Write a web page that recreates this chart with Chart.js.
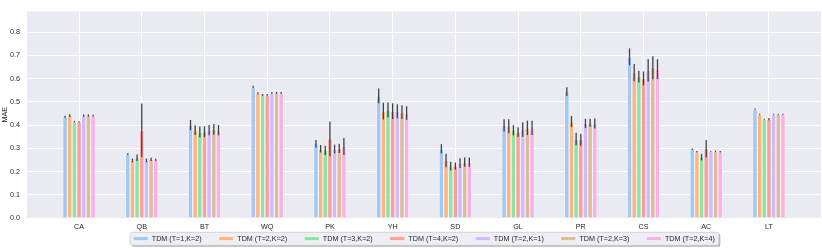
<!DOCTYPE html>
<html>
<head>
<meta charset="utf-8">
<script src="https://cdn.jsdelivr.net/npm/chart.js@4.4.0/dist/chart.umd.min.js"></script>
<style>
  html, body { margin: 0; padding: 0; background: #fff; }
  #chart { display: block; }
</style>
</head>
<body>
<canvas id="chart" width="822" height="248"></canvas>
<script>
// categories on the x axis
const categories = ["CA", "QB", "BT", "WQ", "PK", "YH", "SD", "GL", "PR", "CS", "AC", "LT"];

const seriesNames = [
    "TDM (T=1,K=2)",
    "TDM (T=2,K=2)",
    "TDM (T=3,K=2)",
    "TDM (T=4,K=2)",
    "TDM (T=2,K=1)",
    "TDM (T=2,K=3)",
    "TDM (T=2,K=4)"
];

// mean MAE per category
const t1k2 = [0.436, 0.275, 0.400, 0.565, 0.320, 0.526, 0.298, 0.399, 0.544, 0.694, 0.296, 0.469];
const t2k2 = [0.441, 0.248, 0.378, 0.537, 0.298, 0.460, 0.248, 0.395, 0.415, 0.626, 0.285, 0.447];
const t3k2 = [0.415, 0.259, 0.371, 0.530, 0.291, 0.465, 0.224, 0.378, 0.340, 0.609, 0.262, 0.425];
const t4k2 = [0.414, 0.378, 0.372, 0.530, 0.341, 0.460, 0.224, 0.370, 0.337, 0.601, 0.298, 0.426];
const t2k1 = [0.441, 0.248, 0.378, 0.539, 0.297, 0.460, 0.236, 0.381, 0.407, 0.636, 0.287, 0.447];
const t2k3 = [0.441, 0.252, 0.382, 0.539, 0.300, 0.456, 0.241, 0.388, 0.410, 0.647, 0.287, 0.447];
const t2k4 = [0.441, 0.250, 0.378, 0.539, 0.308, 0.452, 0.241, 0.388, 0.407, 0.641, 0.285, 0.447];

// half width of the error bars
const t1k2Err = [0.004, 0.004, 0.022, 0.004, 0.016, 0.032, 0.020, 0.026, 0.019, 0.036, 0.003, 0.003];
const t2k2Err = [0.006, 0.008, 0.021, 0.004, 0.016, 0.036, 0.029, 0.030, 0.024, 0.037, 0.003, 0.002];
const t3k2Err = [0.003, 0.014, 0.023, 0.004, 0.020, 0.032, 0.018, 0.022, 0.027, 0.025, 0.014, 0.002];
const t4k2Err = [0.003, 0.115, 0.023, 0.004, 0.075, 0.034, 0.015, 0.021, 0.026, 0.030, 0.038, 0.005];
const t2k1Err = [0.005, 0.008, 0.022, 0.004, 0.019, 0.030, 0.021, 0.031, 0.020, 0.048, 0.002, 0.002];
const t2k3Err = [0.005, 0.007, 0.023, 0.004, 0.020, 0.030, 0.020, 0.031, 0.017, 0.050, 0.003, 0.002];
const t2k4Err = [0.004, 0.005, 0.022, 0.004, 0.037, 0.029, 0.020, 0.031, 0.022, 0.043, 0.003, 0.002];

const yTicks = [0.0, 0.1, 0.2, 0.3, 0.4, 0.5, 0.6, 0.7, 0.8];

const seriesValues = [t1k2, t2k2, t3k2, t4k2, t2k1, t2k3, t2k4];
const seriesErrors = [t1k2Err, t2k2Err, t3k2Err, t4k2Err, t2k1Err, t2k3Err, t2k4Err];
const colors = ["#a1c9f4", "#ffb482", "#8de5a1", "#ff9f9b", "#d0bbff", "#debb9b", "#fab0e4"];

const font = { family: "Liberation Sans", size: 7.2 };
const textColor = "#262626";

// grey plot area and the legend frame
const background = {
    id: "background",
    afterLayout(chart) {
        // the x axis takes no room in the layout (legend sits right under the
        // plot), so give its labels a strip to draw in
        const x = chart.scales.x;
        x.bottom = x.top + 16;
        x.height = 16;
    },
    beforeDraw(chart) {
        const { ctx, chartArea: a, legend } = chart;
        ctx.save();
        ctx.fillStyle = "#eaeaf2";
        ctx.fillRect(a.left, a.top, a.right - a.left, a.bottom - a.top);

        const boxes = legend.legendHitBoxes;
        if (boxes && boxes.length) {
            const first = boxes[0];
            const last = boxes[boxes.length - 1];
            const x0 = first.left - 3;
            const x1 = last.left + last.width + 4;
            const y0 = first.top - 2.7;
            const h = 13;
            ctx.fillStyle = "rgba(0,0,0,0.3)";
            ctx.beginPath();
            ctx.roundRect(x0 + 1.5, y0 + 1.5, x1 - x0, h, 2);
            ctx.fill();
            ctx.fillStyle = "#eeeef5";
            ctx.strokeStyle = "#cccccc";
            ctx.lineWidth = 0.8;
            ctx.beginPath();
            ctx.roundRect(x0, y0, x1 - x0, h, 2);
            ctx.fill();
            ctx.stroke();
        }
        ctx.restore();
    }
};

// vertical error bars on every bar
const errorBars = {
    id: "errorBars",
    afterDatasetsDraw(chart) {
        const { ctx } = chart;
        const y = chart.scales.y;
        ctx.save();
        ctx.strokeStyle = "#424242";
        ctx.lineWidth = 1.3;
        chart.data.datasets.forEach((ds, d) => {
            const meta = chart.getDatasetMeta(d);
            meta.data.forEach((bar, i) => {
                const v = seriesValues[d][i];
                const e = seriesErrors[d][i];
                ctx.beginPath();
                ctx.moveTo(bar.x, y.getPixelForValue(v - e));
                ctx.lineTo(bar.x, y.getPixelForValue(v + e));
                ctx.stroke();
            });
        });
        ctx.restore();
    }
};

new Chart(document.getElementById("chart"), {
    type: "bar",
    data: {
        labels: categories.map((c, i) => i),
        datasets: seriesNames.map((name, i) => ({
            label: name,
            data: seriesValues[i],
            backgroundColor: colors[i],
            borderColor: "#ffffff",
            borderWidth: 0.6,
            categoryPercentage: 0.52,
            barPercentage: 1.0
        }))
    },
    options: {
        responsive: false,
        animation: false,
        devicePixelRatio: 1,
        layout: { padding: { top: 1, right: 1, left: 1, bottom: 0 } },
        plugins: {
            tooltip: { enabled: false },
            legend: {
                position: "bottom",
                fullSize: false,
                maxHeight: 30,
                labels: {
                    boxWidth: 15,
                    boxHeight: 4,
                    padding: 17,
                    color: textColor,
                    font: font
                }
            }
        },
        scales: {
            x: {
                type: "linear",
                min: -0.83,
                max: 11.83,
                offset: false,
                grid: { color: "#ffffff", lineWidth: 1, drawTicks: false, offset: false },
                border: { display: false },
                ticks: {
                    stepSize: 1,
                    includeBounds: false,
                    autoSkip: false,
                    maxRotation: 0,
                    padding: 5,
                    color: textColor,
                    font: font,
                    callback: v => categories[v] ?? ""
                },
                afterFit: s => { s.height = 0; }
            },
            y: {
                min: 0,
                max: 0.89,
                grid: { color: "#ffffff", lineWidth: 1, drawTicks: false },
                border: { display: false },
                ticks: {
                    stepSize: 0.1,
                    includeBounds: false,
                    padding: 7,
                    color: textColor,
                    font: font,
                    callback: v => yTicks.some(t => Math.abs(t - v) < 1e-6) ? v.toFixed(1) : ""
                },
                title: { display: true, text: "MAE", color: textColor, font: font, padding: 0 },
                afterFit: s => { s.width = 26; }
            }
        }
    },
    plugins: [background, errorBars]
});
</script>
</body>
</html>
